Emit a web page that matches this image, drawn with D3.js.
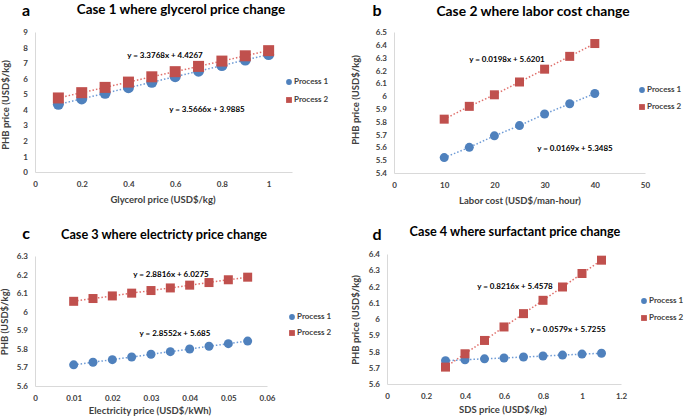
<!DOCTYPE html>
<html><head><meta charset="utf-8">
<script src="https://cdn.jsdelivr.net/npm/d3@7/dist/d3.min.js"></script>
<style>
body{margin:0;background:#fff;}
svg{display:block;font-family:Lato,"Open Sans",sans-serif;}
</style></head>
<body><svg id="c" width="685" height="418"></svg>
<script>
// ---- data ----
const seriesNames = ["Process 1", "Process 2"];

const xA = [0.1,0.2,0.3,0.4,0.5,0.6,0.7,0.8,0.9,1.0];
const p1A = [4.35,4.70,5.06,5.42,5.77,6.13,6.48,6.84,7.20,7.55];
const p2A = [4.76,5.10,5.44,5.78,6.12,6.45,6.79,7.13,7.47,7.80];
const eqA = ["y = 3.5666x + 3.9885","y = 3.3768x + 4.4267"];
const xTicksA = [0,0.2,0.4,0.6,0.8,1];
const yTicksA = [0,1,2,3,4,5,6,7,8,9];

const xB = [10,15,20,25,30,35,40];
const p1B = [5.52,5.60,5.69,5.77,5.86,5.94,6.02];
const p2B = [5.82,5.92,6.01,6.11,6.21,6.31,6.41];
const eqB = ["y = 0.0169x + 5.3485","y = 0.0198x + 5.6201"];
const xTicksB = [0,10,20,30,40,50];
const yTicksB = [5.4,5.5,5.6,5.7,5.8,5.9,6,6.1,6.2,6.3,6.4,6.5];

const xC = [0.01,0.015,0.02,0.025,0.03,0.035,0.04,0.045,0.05,0.055];
const p1C = [5.714,5.728,5.742,5.756,5.771,5.785,5.799,5.814,5.828,5.842];
const p2C = [6.056,6.071,6.085,6.100,6.114,6.128,6.143,6.157,6.172,6.186];
const eqC = ["y = 2.8552x + 5.685","y = 2.8816x + 6.0275"];
const xTicksC = [0,0.01,0.02,0.03,0.04,0.05,0.06];
const yTicksC = [5.6,5.7,5.8,5.9,6,6.1,6.2,6.3];

const xD = [0.3,0.4,0.5,0.6,0.7,0.8,0.9,1.0,1.1];
const p1D = [5.743,5.749,5.755,5.760,5.766,5.772,5.778,5.784,5.789];
const p2D = [5.704,5.786,5.868,5.951,6.033,6.115,6.197,6.280,6.362];
const eqD = ["y = 0.0579x + 5.7255","y = 0.8216x + 5.4578"];
const xTicksD = [0,0.2,0.4,0.6,0.8,1,1.2];
const yTicksD = [5.6,5.7,5.8,5.9,6,6.1,6.2,6.3,6.4];

// ---- styling / layout ----
const BLUE = "#4F81BD", RED = "#C0504D";
const AXIS = "#D9D9D9", TXT = "#404040";
const svg = d3.select("#c");

const panels = [
 {letter:"a", title:"Case 1 where glycerol price change", xt:"Glycerol price (USD$/kg)", yt:"PHB price (USD$/kg)",
  x:xA, s:[p1A,p2A], eq:eqA, xTicks:xTicksA, yTicks:yTicksA, xDom:[0,1.1], yDom:[0,9],
  px:[35,292], py:[172,32], letterPos:[26,16], titlePos:[181,11], titleFs:13.4, ytPos:[7,105], xtPos:[163,201],
  eqPos:[[207,110],[165,56]], legX:289, legY:[82,100], big:true},
 {letter:"b", title:"Case 2 where labor cost change", xt:"Labor cost (USD$/man-hour)", yt:"PHB price (USD$/kg)",
  x:xB, s:[p1B,p2B], eq:eqB, xTicks:xTicksB, yTicks:yTicksB, xDom:[0,50], yDom:[5.4,6.5],
  px:[394,645], py:[173,32], letterPos:[377,16], titlePos:[533,12], titleFs:13.8, ytPos:[357,100], xtPos:[520,202],
  eqPos:[[575,149],[507,60]], legX:642, legY:[90,107]},
 {letter:"c", title:"Case 3 where electricty price change", xt:"Electricity price (USD$/kWh)", yt:"PHB (USD$/kg)",
  x:xC, s:[p1C,p2C], eq:eqC, xTicks:xTicksC, yTicks:yTicksC, xDom:[0,0.06], yDom:[5.6,6.3],
  px:[35,267], py:[386,256], letterPos:[26,239], titlePos:[164,236], titleFs:12.7, ytPos:[6,322], xtPos:[150,412],
  eqPos:[[175,334],[171,275]], legX:292, legY:[317,333]},
 {letter:"d", title:"Case 4 where surfactant price change", xt:"SDS price (USD$/kg)", yt:"PHB price (USD$/kg)",
  x:xD, s:[p1D,p2D], eq:eqD, xTicks:xTicksD, yTicks:yTicksD, xDom:[0,1.2], yDom:[5.6,6.4],
  px:[387,621], py:[384,254], letterPos:[377,240], titlePos:[515,233], titleFs:12.7, ytPos:[357,320], xtPos:[503,411],
  eqPos:[[568,330],[515,287]], legX:644, legY:[301,318]}
];

panels.forEach(p => {
  const g = svg.append("g");
  const xs = d3.scaleLinear().domain(p.xDom).range(p.px);
  const ys = d3.scaleLinear().domain(p.yDom).range(p.py);
  const fmt = v => d3.format("~g")(+v.toFixed(3));

  // axes
  const xa = g.append("g").attr("transform",`translate(0,${p.py[0]})`)
    .call(d3.axisBottom(xs).tickValues(p.xTicks).tickSize(0).tickPadding(9).tickFormat(fmt));
  const ya = g.append("g").attr("transform",`translate(${p.px[0]},0)`)
    .call(d3.axisLeft(ys).tickValues(p.yTicks).tickSize(0).tickPadding(7).tickFormat(fmt));
  [xa,ya].forEach(a=>{
    a.select(".domain").attr("stroke",AXIS).attr("stroke-width",1);
    a.selectAll("text").attr("fill",TXT).style("font-size","8px").style("font-weight","bold").style("font-family","Lato");
  });

  // trendlines and markers
  p.s.forEach((vals,i)=>{
    const pts = p.x.map((xv,j)=>[xv, vals[j]]);
    g.append("path").datum(pts)
      .attr("d", d3.line().x(d=>xs(d[0])).y(d=>ys(d[1])))
      .attr("fill","none").attr("stroke", i===0?"#6E9BD6":"#E0706C")
      .attr("stroke-width",1.5).attr("stroke-dasharray","1.5,2");
  });
  const r = p.big ? 5.5 : 4.5;
  p.s.forEach((vals,i)=>{
    const pts = p.x.map((xv,j)=>[xv, vals[j]]);
    if(i===0){
      g.selectAll(null).data(pts).enter().append("circle")
        .attr("cx",d=>xs(d[0])).attr("cy",d=>ys(d[1])).attr("r",r).attr("fill",BLUE);
    } else {
      g.selectAll(null).data(pts).enter().append("rect")
        .attr("x",d=>xs(d[0])-r).attr("y",d=>ys(d[1])-r).attr("width",2*r).attr("height",2*r).attr("fill",RED);
    }
  });

  // equations
  p.eq.forEach((t,i)=>{
    g.append("text").attr("x",p.eqPos[i][0]).attr("y",p.eqPos[i][1]).attr("text-anchor","middle")
      .attr("dominant-baseline","middle").style("font-size","8px").style("font-weight","bold")
      .attr("fill","#000").text(t);
  });

  // legend
  seriesNames.forEach((n,i)=>{
    const ly = p.legY[i];
    if(i===0) g.append("circle").attr("cx",p.legX).attr("cy",ly).attr("r",2.9).attr("fill",BLUE);
    else g.append("rect").attr("x",p.legX-2.9).attr("y",ly-2.9).attr("width",5.8).attr("height",5.8).attr("fill",RED);
    g.append("text").attr("x",p.legX+5).attr("y",ly).attr("dominant-baseline","middle")
      .style("font-size","8px").style("font-weight","bold").attr("fill",TXT).text(n);
  });

  // titles
  g.append("text").attr("x",p.titlePos[0]).attr("y",p.titlePos[1]).attr("text-anchor","middle")
    .attr("dominant-baseline","middle").style("font-size",p.titleFs+"px").style("font-weight","bold").attr("fill","#000").text(p.title);
  g.append("text").attr("x",p.letterPos[0]).attr("y",p.letterPos[1]).attr("text-anchor","middle")
    .style("font-size","16px").style("font-weight","bold").attr("fill","#000").text(p.letter);
  g.append("text").attr("x",p.xtPos[0]).attr("y",p.xtPos[1]).attr("text-anchor","middle")
    .attr("dominant-baseline","middle").style("font-size","9.5px").style("font-weight","bold").attr("fill",TXT).text(p.xt);
  g.append("text").attr("transform",`translate(${p.ytPos[0]},${p.ytPos[1]}) rotate(-90)`).attr("text-anchor","middle")
    .attr("dominant-baseline","middle").style("font-size","9.5px").style("font-weight","bold").attr("fill",TXT).text(p.yt);
});
</script></body></html>
